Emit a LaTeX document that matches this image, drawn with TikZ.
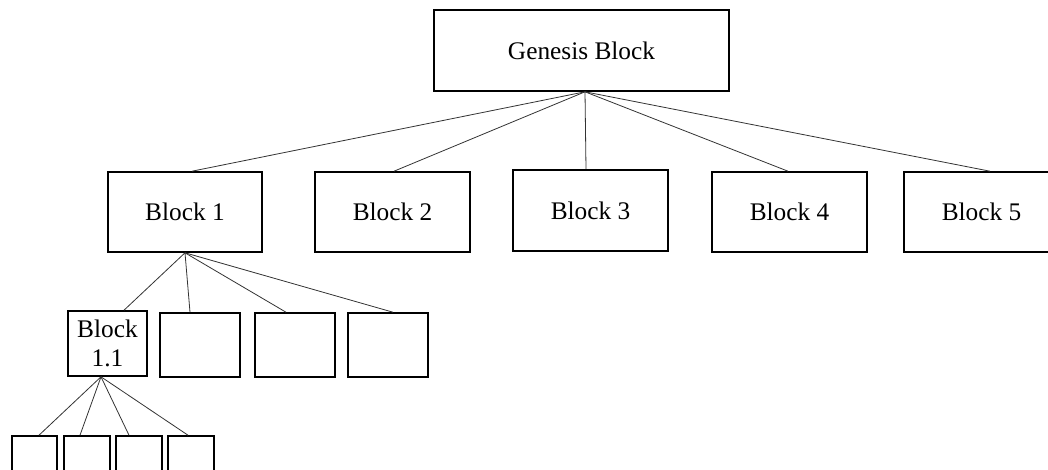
\documentclass[tikz,border=0pt]{standalone}
\usepackage{fontspec}
\setmainfont{Liberation Serif}
\usetikzlibrary{calc}
\tikzset{
  blk/.style={draw, line width=1.2pt, inner sep=0pt, align=center,
              font=\fontsize{19pt}{22pt}\selectfont},
  link/.style={draw=black!80, line width=0.6pt}
}
\begin{document}
\begin{tikzpicture}[x=0.75pt, y=-0.75pt]
  \useasboundingbox (0,0) rectangle (1048,469);

  % root
  \node[blk, minimum width=295*0.75pt, minimum height=81*0.75pt] (gen) at (581.5,50.5) {Genesis Block};

  % first level
  \node[blk, minimum width=154*0.75pt, minimum height=80*0.75pt] (b1) at (185,212) {Block 1};
  \node[blk, minimum width=155*0.75pt, minimum height=80*0.75pt] (b2) at (392.5,212) {Block 2};
  \node[blk, minimum width=155*0.75pt, minimum height=81*0.75pt] (b3) at (590.5,210.5) {Block 3};
  \node[blk, minimum width=155*0.75pt, minimum height=80*0.75pt] (b4) at (789.5,212) {Block 4};
  \node[blk, minimum width=155*0.75pt, minimum height=80*0.75pt] (b5) at (981.5,212) {Block 5};

  % second level under Block 1
  \node[blk, minimum width=79*0.75pt, minimum height=65*0.75pt] (b11) at (107.5,343.5) {Block\\1.1};
  \node[blk, minimum width=80*0.75pt, minimum height=64*0.75pt] (c2) at (200,345) {};
  \node[blk, minimum width=80*0.75pt, minimum height=64*0.75pt] (c3) at (295,345) {};
  \node[blk, minimum width=80*0.75pt, minimum height=64*0.75pt] (c4) at (388,345) {};

  % third level under Block 1.1
  \node[blk, minimum width=45*0.75pt, minimum height=60*0.75pt] (l1) at (34.5,466) {};
  \node[blk, minimum width=46*0.75pt, minimum height=60*0.75pt] (l2) at (87,466) {};
  \node[blk, minimum width=46*0.75pt, minimum height=60*0.75pt] (l3) at (139,466) {};
  \node[blk, minimum width=46*0.75pt, minimum height=60*0.75pt] (l4) at (191,466) {};

  % connectors
  \coordinate (gA) at ($(gen.south)+(3.5,0)$);
  \path[link] (gA) -- ($(b1.north)+(7,0)$);
  \path[link] (gA) -- ($(b2.north)+(1.5,0)$);
  \path[link] (gA) -- ($(b3.north)+(-4.5,0)$);
  \path[link] (gA) -- ($(b4.north)+(-1.5,0)$);
  \path[link] (gA) -- ($(b5.north)+(8.5,0)$);

  \path[link] (b1.south) -- ($(b11.north)+(16.5,0)$);
  \path[link] (b1.south) -- ($(c2.north)+(-10,0)$);
  \path[link] (b1.south) -- ($(c3.north)+(-9,0)$);
  \path[link] (b1.south) -- ($(c4.north)+(5,0)$);

  \coordinate (bA) at ($(b11.south)+(-6.5,0)$);
  \path[link] (bA) -- ($(l1.north)+(4.5,0)$);
  \path[link] (bA) -- ($(l2.north)+(-7,0)$);
  \path[link] (bA) -- ($(l3.north)+(-10,0)$);
  \path[link] (bA) -- ($(l4.north)+(-3,0)$);
\end{tikzpicture}
\end{document}
